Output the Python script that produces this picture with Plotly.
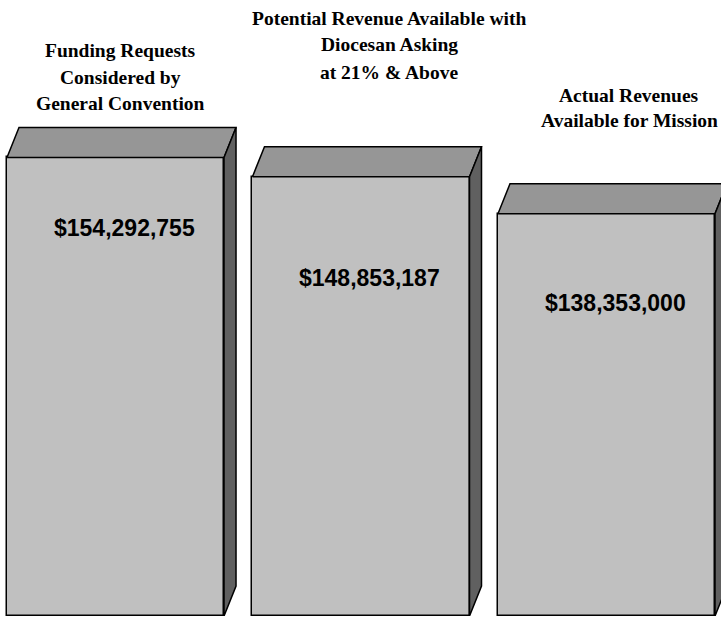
import plotly.graph_objects as go

# ---- data ----
title_lines = [
    ["Funding Requests", "Considered by", "General Convention"],
    ["Potential Revenue Available with", "Diocesan Asking", "at 21% & Above"],
    ["Actual Revenues", "Available for Mission"],
]
values = [154292755, 148853187, 138353000]

# ---- layout constants ----
W, H = 721, 617
PLOT_H = 616
X0, X1 = -0.4705, 2.4664          # x axis range (category units)
PX_PER_X = W / (X1 - X0)
Y0 = 24.5e6                        # axis floor (baseline of the bars)
PX_PER_Y = 3.533e-6                # pixels per dollar
Y1 = Y0 + PLOT_H / PX_PER_Y
BAR_W = 0.884
DEPTH_PX = (12, 30)
DX = DEPTH_PX[0] / PX_PER_X
DY = DEPTH_PX[1] / PX_PER_Y

FRONT = "#c0c0c0"
TOP = "#969696"
SIDE = "#606060"
EDGE = dict(color="black", width=1.5)

label_drop_px = [71, 101, 89]
label_dx = 0.035
title_x_px = [120, 389, 629]
title_y_px = [[50, 77, 104], [18, 45, 72], [95, 121]]

fig = go.Figure()

xs = list(range(len(values)))

# front faces
fig.add_trace(go.Bar(
    x=xs, y=[v - Y0 for v in values], base=Y0, width=BAR_W,
    marker=dict(color=FRONT, line=EDGE), hoverinfo="skip", showlegend=False,
))

for i, v in zip(xs, values):
    xl, xr = i - BAR_W / 2, i + BAR_W / 2
    # top face
    fig.add_trace(go.Scatter(
        x=[xl, xr, xr + DX, xl + DX, xl],
        y=[v, v, v + DY, v + DY, v],
        mode="lines", fill="toself", fillcolor=TOP, line=EDGE,
        hoverinfo="skip", showlegend=False,
    ))
    # side face
    fig.add_trace(go.Scatter(
        x=[xr, xr + DX, xr + DX, xr, xr],
        y=[v, v + DY, Y0 + DY, Y0, v],
        mode="lines", fill="toself", fillcolor=SIDE, line=EDGE,
        hoverinfo="skip", showlegend=False,
    ))

annotations = []
for i, v in zip(xs, values):
    annotations.append(dict(
        x=i + label_dx, y=v, xref="x", yref="y", yshift=-label_drop_px[i],
        text=f"<b>${v:,}</b>", showarrow=False,
        font=dict(family="Arial, Liberation Sans, sans-serif", size=23, color="black"),
        xanchor="center", yanchor="middle",
    ))

for i, lines in enumerate(title_lines):
    for line, ypx in zip(lines, title_y_px[i]):
        annotations.append(dict(
            x=title_x_px[i] / W, y=1 - ypx / PLOT_H, xref="paper", yref="paper",
            text=f"<b>{line}</b>", showarrow=False,
            font=dict(family="Liberation Serif, Times New Roman, serif", size=19.5, color="black"),
            xanchor="center", yanchor="middle",
        ))

fig.update_layout(
    width=W, height=H,
    margin=dict(l=0, r=0, t=0, b=H - PLOT_H, pad=0),
    paper_bgcolor="white", plot_bgcolor="white",
    xaxis=dict(range=[X0, X1], visible=False, fixedrange=True),
    yaxis=dict(range=[Y0, Y1], visible=False, fixedrange=True),
    annotations=annotations,
    showlegend=False,
    bargap=0,
)

fig.write_html(
    "out.html",
    config={"displayModeBar": False},
    post_script="document.body.style.margin='0';document.body.style.overflow='hidden';",
)
